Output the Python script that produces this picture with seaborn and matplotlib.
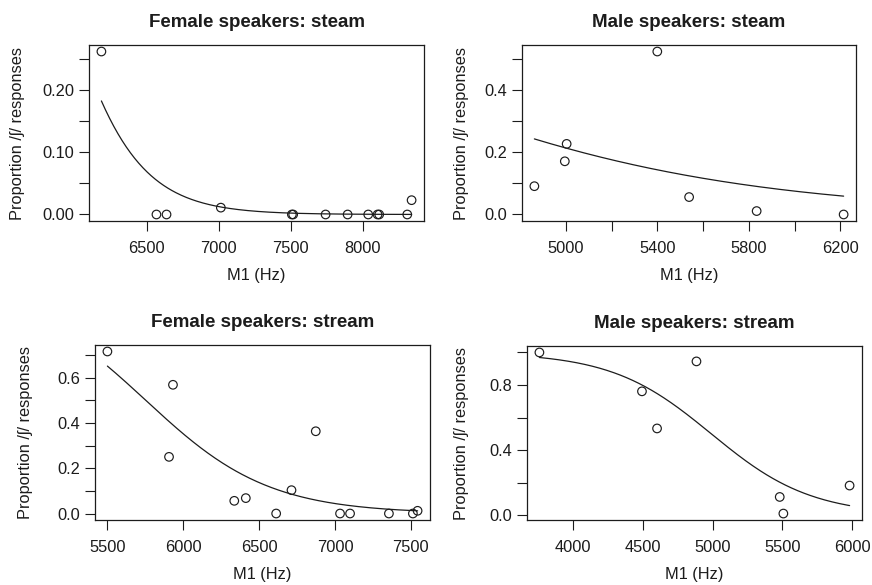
import numpy as np
import pandas as pd
import matplotlib
matplotlib.use("Agg")
import matplotlib.pyplot as plt
import seaborn as sns

# ---- data: M1 (Hz) per token and proportion of /ʃ/ responses ----
f_steam_m1 = [6185, 6567, 6637, 7014, 7507, 7516, 7741, 7894, 8037, 8102, 8113, 8308, 8338]
f_steam_prop = [0.262, 0.0, 0.0, 0.011, 0.0, 0.0, 0.0, 0.0, 0.0, 0.0, 0.0, 0.0, 0.023]
f_steam_fit = (20.21, -0.00351)      # logistic fit: intercept, slope

m_steam_m1 = [4863, 4996, 5004, 5400, 5539, 5834, 6214]
m_steam_prop = [0.091, 0.171, 0.227, 0.524, 0.056, 0.011, 0.0]
m_steam_fit = (4.743, -0.001209)

f_stream_m1 = [5500, 5906, 5932, 6336, 6412, 6612, 6713, 6873, 7033, 7099, 7355, 7513, 7544]
f_stream_prop = [0.715, 0.250, 0.568, 0.056, 0.068, 0.0, 0.103, 0.363, 0.0, 0.0, 0.0, 0.0, 0.012]
f_stream_fit = (14.19, -0.002467)

m_stream_m1 = [3761, 4495, 4603, 4885, 5481, 5507, 5981]
m_stream_prop = [1.0, 0.761, 0.533, 0.945, 0.112, 0.010, 0.182]
m_stream_fit = (13.96, -0.002797)

titles = ["Female speakers: steam", "Male speakers: steam",
          "Female speakers: stream", "Male speakers: stream"]

# tick positions and which of them carry a label
x_ticks = [[6500, 7000, 7500, 8000],
           [5000, 5200, 5400, 5600, 5800, 6000, 6200],
           [5500, 6000, 6500, 7000, 7500],
           [4000, 4500, 5000, 5500, 6000]]
x_labels = [["6500", "7000", "7500", "8000"],
            ["5000", "", "5400", "", "5800", "", "6200"],
            ["5500", "6000", "6500", "7000", "7500"],
            ["4000", "4500", "5000", "5500", "6000"]]
y_ticks = [[0.0, 0.05, 0.10, 0.15, 0.20, 0.25],
           [0.0, 0.1, 0.2, 0.3, 0.4, 0.5],
           [0.0, 0.1, 0.2, 0.3, 0.4, 0.5, 0.6, 0.7],
           [0.0, 0.2, 0.4, 0.6, 0.8, 1.0]]
y_labels = [["0.00", "", "0.10", "", "0.20", ""],
            ["0.0", "", "0.2", "", "0.4", ""],
            ["0.0", "", "0.2", "", "0.4", "", "0.6", ""],
            ["0.0", "", "0.4", "", "0.8", ""]]

panels = [(f_steam_m1, f_steam_prop, f_steam_fit),
          (m_steam_m1, m_steam_prop, m_steam_fit),
          (f_stream_m1, f_stream_prop, f_stream_fit),
          (m_stream_m1, m_stream_prop, m_stream_fit)]

sns.set_style("ticks")
plt.rcParams["font.family"] = ["Liberation Sans", "DejaVu Sans"]
ink = "#1c1c1c"
plt.rcParams.update({
    "text.color": ink, "axes.labelcolor": ink,
    "xtick.color": ink, "ytick.color": ink, "axes.edgecolor": ink,
})

W, H = 872, 585
fig = plt.figure(figsize=(W / 100, H / 100), dpi=100)

# axes boxes in pixels: left, top, right, bottom
boxes = [(89, 45, 424, 221), (522, 45, 856, 221),
         (95, 345, 430, 520), (527, 346, 862, 520)]
xlab_y = [268, 268, 567, 567]     # top of the x-axis label, pixels
ylab_x = [25, 469, 33, 469]       # right edge of the y-axis label, pixels

for i, ((xs, ys, (b0, b1)), (l, t, r, b)) in enumerate(zip(panels, boxes)):
    ax = fig.add_axes([l / W, 1 - b / H, (r - l) / W, (b - t) / H])
    df = pd.DataFrame({"M1": xs, "prop": ys})
    sns.scatterplot(data=df, x="M1", y="prop", ax=ax, s=38,
                    facecolor="none", edgecolor=ink, linewidth=0.85,
                    marker="o", zorder=3)
    grid = np.linspace(min(xs), max(xs), 300)
    fit = pd.DataFrame({"M1": grid, "prop": 1 / (1 + np.exp(-(b0 + b1 * grid)))})
    sns.lineplot(data=fit, x="M1", y="prop", ax=ax, color=ink, linewidth=0.9)

    xr = max(xs) - min(xs)
    yr = max(ys) - min(ys)
    ax.set_xlim(min(xs) - 0.04 * xr, max(xs) + 0.04 * xr)
    ax.set_ylim(min(ys) - 0.04 * yr, max(ys) + 0.04 * yr)

    ax.set_xticks(x_ticks[i])
    ax.set_xticklabels(x_labels[i])
    ax.set_yticks(y_ticks[i])
    ax.set_yticklabels(y_labels[i])
    ax.tick_params(axis="both", direction="out", length=7.2, width=0.8,
                   labelsize=11.8)
    ax.tick_params(axis="x", pad=7)
    ax.tick_params(axis="y", pad=3.5)
    for sp in ax.spines.values():
        sp.set_visible(True)
        sp.set_linewidth(0.9)

    ax.set_title(titles[i], fontsize=13.5, fontweight="bold", pad=13)
    ax.set_xlabel("M1 (Hz)", fontsize=11.8)
    ax.xaxis.set_label_coords(0.5, -(xlab_y[i] - b) / (b - t))
    ax.set_ylabel("")
    fig.text(ylab_x[i] / W, 1 - (t + b) / 2 / H, "Proportion /ʃ/ responses",
             fontsize=11.8, rotation=90, ha="right", va="center")

fig.savefig("out.png", dpi=100)
